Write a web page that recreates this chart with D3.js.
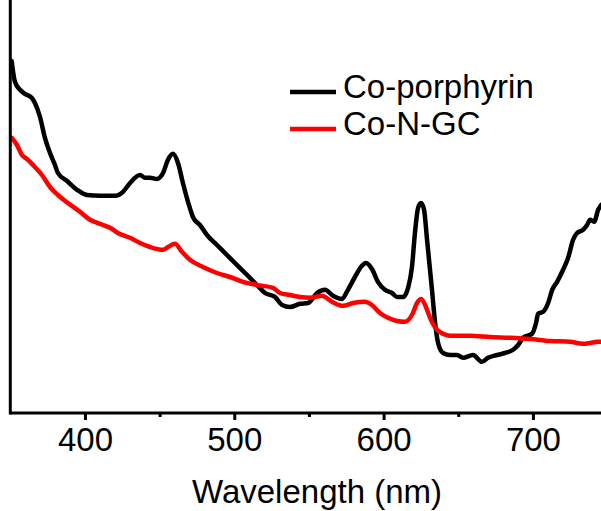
<!DOCTYPE html>
<html>
<head>
<meta charset="utf-8">
<script src="https://cdn.jsdelivr.net/npm/d3@7"></script>
<style>
  html, body { margin: 0; padding: 0; background: #fff; }
  svg { display: block; }
  text { font-family: "Liberation Sans", Arial, sans-serif; fill: #000; }
</style>
</head>
<body>
<svg id="chart" width="601" height="511"></svg>
<script>
// ---- Data (wavelength in nm, absorbance in arbitrary units) ----
const seriesNames = ["Co-porphyrin", "Co-N-GC"];
const seriesColors = ["#000000", "#ff0000"];

const coPorphyrinWavelength = [350.9,353.1,356.5,359.8,364.3,366.5,369.9,373.2,376.6,379.9,381.9,388.0,394.7,401.4,410.1,420.1,425.5,430.2,436.9,440.2,443.6,448.2,452.3,455.6,459.0,462.3,465.6,469.0,472.3,477.0,481.7,488.4,495.1,501.8,507.2,510.5,515.2,520.6,527.3,532.0,537.3,544.0,549.4,555.4,560.8,566.1,572.1,576.1,580.8,585.5,588.2,592.2,596.2,600.9,605.6,609.0,613.0,616.4,619.0,621.0,623.1,625.1,627.1,629.1,632.4,634.5,636.5,639.8,644.5,649.2,653.2,659.9,665.9,669.9,676.0,681.3,686.7,690.1,693.4,699.4,702.1,703.5,706.8,710.2,712.9,716.2,720.2,723.6,726.9,729.6,733.6,736.3,738.3,741.0,743.7,745.7];
const coPorphyrinAbs = [0.880,0.828,0.808,0.798,0.788,0.775,0.740,0.688,0.650,0.620,0.600,0.580,0.558,0.545,0.543,0.543,0.553,0.575,0.595,0.588,0.588,0.585,0.600,0.633,0.648,0.625,0.575,0.528,0.490,0.470,0.445,0.420,0.395,0.370,0.350,0.338,0.320,0.300,0.290,0.270,0.265,0.273,0.275,0.300,0.308,0.293,0.285,0.308,0.340,0.368,0.375,0.360,0.328,0.308,0.300,0.290,0.290,0.313,0.365,0.450,0.513,0.525,0.508,0.433,0.308,0.225,0.175,0.150,0.145,0.145,0.138,0.145,0.128,0.138,0.145,0.150,0.158,0.170,0.188,0.198,0.225,0.248,0.253,0.275,0.308,0.328,0.358,0.388,0.433,0.450,0.458,0.470,0.483,0.478,0.508,0.520];

const coNGCWavelength = [350.9,354.5,357.8,361.2,366.5,371.2,376.6,381.9,388.6,396.7,403.4,410.1,416.8,422.1,430.2,436.9,443.6,452.3,455.6,460.3,465.0,470.3,479.0,488.4,497.1,505.8,515.2,525.9,530.6,537.3,544.0,550.7,558.7,565.4,572.8,579.5,587.5,592.2,597.6,602.9,609.0,614.3,619.0,622.4,625.1,627.8,631.1,635.8,639.8,644.5,657.9,671.3,684.7,698.1,711.5,724.9,733.6,738.3,743.0,745.7];
const coNGCAbs = [0.688,0.670,0.645,0.635,0.615,0.595,0.565,0.545,0.525,0.503,0.483,0.473,0.463,0.450,0.438,0.425,0.415,0.408,0.415,0.423,0.403,0.383,0.365,0.350,0.340,0.328,0.320,0.313,0.300,0.295,0.290,0.288,0.293,0.278,0.268,0.275,0.278,0.270,0.250,0.238,0.230,0.228,0.245,0.275,0.285,0.270,0.238,0.208,0.198,0.193,0.193,0.190,0.188,0.185,0.180,0.178,0.173,0.175,0.178,0.178];

const xMajorTicks = [400, 500, 600, 700];
const xMinorTicks = [450, 550, 650];
const xDomain = [350, 746];
const yDomain = [0, 1.0325];
const xTitle = "Wavelength (nm)";

// ---- Layout ----
const svg = d3.select("#chart");
const plotLeft = 10.3, plotRight = 601.6, plotTop = 0, plotBottom = 413;
const x = d3.scaleLinear().domain(xDomain).range([plotLeft, plotRight]);
const y = d3.scaleLinear().domain(yDomain).range([plotBottom, plotTop]);

const seriesData = [
  coPorphyrinWavelength.map((w, i) => [w, coPorphyrinAbs[i]]),
  coNGCWavelength.map((w, i) => [w, coNGCAbs[i]])
];

const line = d3.line()
  .x(d => x(d[0]))
  .y(d => y(d[1]))
  .curve(d3.curveMonotoneX);

seriesData.forEach((data, i) => {
  svg.append("path")
    .datum(data)
    .attr("fill", "none")
    .attr("stroke", seriesColors[i])
    .attr("stroke-width", 4.5)
    .attr("stroke-linejoin", "round")
    .attr("stroke-linecap", "round")
    .attr("d", line);
});

// ---- Axes ----
const xAxis = d3.axisBottom(x)
  .tickValues(xMajorTicks)
  .tickSize(7)
  .tickPadding(6)
  .tickFormat(d3.format("d"));

const gx = svg.append("g").attr("transform", `translate(0,${plotBottom})`).call(xAxis);
gx.select(".domain").attr("stroke", "#000").attr("stroke-width", 3)
  .attr("d", `M${plotLeft},0H601`);
gx.selectAll(".tick line").attr("stroke", "#000").attr("stroke-width", 3);
gx.selectAll(".tick text")
  .attr("font-size", 33)
  .attr("font-family", "'Liberation Sans', Arial, sans-serif")
  .attr("dy", null)
  .attr("y", 38);

const xAxisMinor = d3.axisBottom(x)
  .tickValues(xMinorTicks)
  .tickSize(4)
  .tickFormat("");
const gxm = svg.append("g").attr("transform", `translate(0,${plotBottom})`).call(xAxisMinor);
gxm.select(".domain").remove();
gxm.selectAll(".tick line").attr("stroke", "#000").attr("stroke-width", 3);

// left axis line (no ticks)
const yAxis = d3.axisLeft(y).tickValues([]).tickSizeOuter(0);
const gy = svg.append("g").attr("transform", `translate(${plotLeft},0)`).call(yAxis);
gy.select(".domain").attr("stroke", "#000").attr("stroke-width", 3)
  .attr("d", `M0,${plotBottom + 1.5}V0`);

// axis title
svg.append("text")
  .attr("x", 317)
  .attr("y", 503)
  .attr("text-anchor", "middle")
  .attr("font-size", 33)
  .text(xTitle);

// ---- Legend ----
const legendY = [92, 129];
const legend = svg.append("g");
seriesNames.forEach((name, i) => {
  legend.append("line")
    .attr("x1", 290).attr("x2", 336)
    .attr("y1", legendY[i]).attr("y2", legendY[i])
    .attr("stroke", seriesColors[i])
    .attr("stroke-width", 4.5);
  legend.append("text")
    .attr("x", 343)
    .attr("y", legendY[i] + 5.5 + (i === 1 ? 0.5 : 0))
    .attr("font-size", 33)
    .text(name);
});
</script>
</body>
</html>
